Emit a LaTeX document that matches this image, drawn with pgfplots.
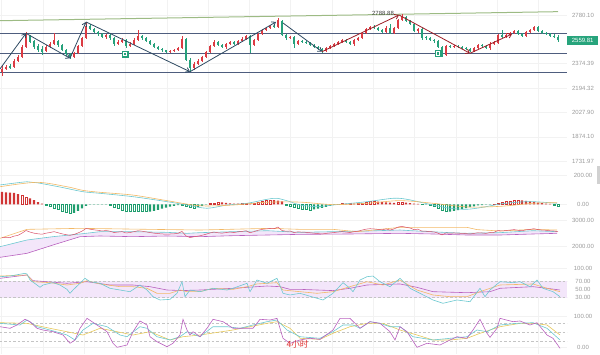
\documentclass[border=0pt]{standalone}
\usepackage{fontspec}
\setmainfont{Liberation Sans}
\newfontfamily\cjk{Noto Sans CJK SC}
\usepackage{pgfplots}
\pgfplotsset{compat=1.18}
\usepackage{pgfplotstable}
\usetikzlibrary{arrows.meta}

\definecolor{cred}{HTML}{DB3B43}
\definecolor{cgreen}{HTML}{26A17B}
\definecolor{navyc}{HTML}{2E4A62}
\definecolor{arrred}{HTML}{9B1C24}
\definecolor{hlc}{HTML}{4E5D7E}
\definecolor{trendc}{HTML}{9DBB84}
\definecolor{labc}{HTML}{9A9A9A}
\definecolor{gridc}{HTML}{F2F2F2}
\definecolor{lcyan}{HTML}{6CC8D0}
\definecolor{lorange}{HTML}{F2B866}
\definecolor{lpurple}{HTML}{B860BE}
\definecolor{lyellow}{HTML}{E6C85A}
\definecolor{pricec}{HTML}{D9506A}
\definecolor{bandc}{HTML}{F3E6FA}
\definecolor{dashc}{HTML}{C4C4C4}
\definecolor{hred}{HTML}{D03535}
\definecolor{hgreen}{HTML}{1F9E6E}
\definecolor{tagc}{HTML}{27A47C}
\definecolor{redtxt}{HTML}{E0302F}

\pgfplotstableread{
x o h l c
2 2312 2358 2283 2335
6 2335 2365 2327 2350
10 2358 2373 2335 2342
14 2350 2412 2342 2396
18 2396 2443 2388 2427
22 2427 2523 2419 2507
26 2507 2632 2499 2606
30 2598 2606 2540 2548
34 2556 2564 2491 2507
38 2515 2531 2467 2483
42 2491 2515 2443 2467
46 2475 2523 2467 2507
50 2507 2548 2499 2531
54 2531 2623 2523 2564
58 2556 2564 2507 2523
62 2523 2531 2475 2483
66 2483 2491 2435 2451
70 2451 2459 2412 2427
74 2427 2467 2419 2459
78 2459 2523 2451 2515
82 2515 2589 2507 2581
86 2581 2718 2573 2683
90 2683 2700 2649 2657
94 2657 2666 2623 2632
98 2632 2640 2598 2615
102 2615 2623 2581 2589
106 2589 2615 2573 2606
110 2606 2615 2564 2581
114 2581 2589 2515 2531
118 2531 2564 2523 2548
122 2548 2581 2540 2564
126 2564 2573 2499 2515
130 2515 2548 2507 2531
134 2531 2581 2523 2564
138 2564 2649 2556 2598
142 2598 2606 2564 2581
146 2581 2589 2548 2556
150 2556 2564 2523 2531
154 2531 2540 2499 2507
158 2507 2515 2483 2491
162 2491 2499 2467 2479
166 2479 2483 2459 2467
170 2467 2483 2459 2475
174 2475 2491 2467 2483
178 2483 2507 2475 2499
182 2499 2598 2491 2573
186 2573 2581 2396 2404
190 2404 2419 2312 2342
194 2342 2388 2327 2373
198 2373 2412 2365 2396
202 2396 2435 2388 2427
206 2427 2475 2419 2467
210 2467 2523 2459 2515
214 2515 2564 2507 2548
218 2548 2556 2515 2523
222 2523 2531 2499 2507
226 2507 2540 2491 2531
230 2531 2556 2523 2548
234 2548 2556 2523 2531
238 2531 2564 2523 2556
242 2556 2589 2548 2573
246 2573 2606 2564 2598
250 2598 2606 2459 2523
254 2523 2573 2515 2564
258 2564 2623 2556 2615
262 2615 2657 2606 2649
266 2649 2674 2640 2666
270 2666 2692 2657 2683
274 2683 2700 2666 2674
278 2674 2753 2666 2736
282 2727 2736 2598 2606
286 2606 2615 2564 2581
290 2581 2598 2573 2589
294 2589 2598 2499 2531
298 2531 2564 2523 2556
302 2556 2564 2540 2548
306 2548 2556 2531 2540
310 2540 2548 2515 2523
314 2523 2531 2499 2507
318 2507 2515 2483 2491
322 2491 2499 2459 2475
326 2475 2507 2467 2499
330 2499 2523 2491 2515
334 2515 2540 2507 2531
338 2531 2556 2523 2548
342 2548 2573 2540 2564
346 2564 2573 2540 2548
350 2548 2556 2523 2531
354 2531 2573 2515 2564
358 2564 2589 2556 2581
362 2581 2632 2573 2623
366 2623 2666 2615 2657
370 2657 2683 2649 2674
374 2674 2692 2657 2666
378 2666 2674 2640 2649
382 2649 2657 2623 2632
386 2632 2683 2623 2666
390 2666 2700 2615 2623
394 2623 2674 2615 2666
398 2666 2744 2657 2736
402 2736 2793 2727 2762
406 2762 2771 2718 2727
410 2727 2736 2692 2700
414 2700 2709 2632 2640
418 2640 2666 2623 2657
422 2657 2666 2564 2581
426 2589 2598 2564 2581
430 2581 2589 2556 2564
434 2564 2573 2540 2556
438 2556 2564 2499 2507
442 2507 2515 2427 2443
446 2443 2523 2435 2515
450 2515 2523 2499 2507
454 2507 2523 2499 2515
458 2515 2523 2499 2507
462 2507 2515 2491 2499
466 2499 2507 2483 2491
470 2491 2499 2467 2475
474 2475 2507 2467 2499
478 2499 2531 2491 2523
482 2523 2531 2507 2515
486 2515 2523 2491 2499
490 2499 2548 2483 2531
494 2531 2556 2523 2540
498 2540 2615 2531 2606
502 2606 2649 2581 2589
506 2589 2623 2581 2606
510 2606 2632 2598 2623
514 2623 2649 2615 2640
518 2640 2649 2606 2615
522 2615 2623 2589 2598
526 2598 2640 2589 2632
530 2632 2657 2623 2649
534 2649 2683 2640 2674
538 2674 2683 2632 2640
542 2640 2649 2615 2623
546 2623 2632 2606 2615
550 2615 2623 2589 2598
554 2598 2615 2581 2589
558 2589 2606 2548 2559.81
}\candles

\pgfplotstableread{
x v t
2 84 1
6 82 1
10 80 1
14 78 1
18 70 1
22 60 2
26 50 2
30 40 1
34 28 1
38 15 1
42 5 1
46 -8 4
50 -16 4
54 -25 4
58 -35 4
62 -45 4
66 -55 4
70 -61 4
74 -58 3
78 -45 3
82 -28 3
86 -10 3
90 -3 3
94 -3 3
98 -2 3
102 -3 3
106 -3 3
110 -8 4
114 -18 4
118 -28 4
122 -38 4
126 -48 4
130 -50 4
134 -48 4
138 -45 4
142 -48 4
146 -50 4
150 -50 3
154 -45 3
158 -38 3
162 -30 3
166 -22 3
170 -15 3
174 -10 3
178 -5 3
182 -8 4
186 -15 4
190 -22 4
194 -25 4
198 -20 3
202 -10 3
206 -3 3
210 5 2
214 10 2
218 15 2
222 14 1
226 10 1
230 6 1
234 4 1
238 4 1
242 5 2
246 6 2
250 4 1
254 8 2
258 14 2
262 20 2
266 26 2
270 30 2
274 28 1
278 25 1
282 20 1
286 -5 4
290 -12 4
294 -20 4
298 -26 4
302 -32 4
306 -36 4
310 -38 4
314 -35 3
318 -30 3
322 -25 3
326 -18 3
330 -10 3
334 -4 3
338 3 2
342 4 2
346 4 1
350 5 2
354 5 1
358 6 2
362 10 2
366 14 2
370 18 2
374 20 2
378 18 1
382 16 1
386 14 1
390 12 1
394 10 1
398 12 2
402 14 2
406 12 1
410 8 1
414 5 1
418 3 1
422 -3 4
426 -3 3
430 -5 4
434 -15 4
438 -25 4
442 -38 4
446 -50 4
450 -50 3
454 -45 3
458 -40 3
462 -33 3
466 -26 3
470 -20 3
474 -14 3
478 -8 3
482 -5 3
486 -3 3
490 -2 3
494 3 2
498 5 2
502 12 2
506 18 2
510 24 2
514 28 2
518 30 2
522 27 1
526 24 1
530 20 1
534 16 1
538 12 1
542 8 1
546 5 1
550 3 1
554 -5 4
558 -10 4
}\hist

\pgfplotsset{
  panel/.style={scale only axis, width=567pt, xmin=0, xmax=567, anchor=north west,
    axis line style={draw=none}, major tick length=0pt,
    xtick={1.6,42.9,84.2,125.5,166.8,208.1,249.4,290.7,332,373.3,414.6,455.9,497.2,538.5},
    xticklabels={}, xmajorgrids, ymajorgrids,
    grid style={color=gridc, line width=0.5pt},
    yticklabel pos=right,
    yticklabel style={anchor=center, xshift=16pt, font=\fontsize{6}{7}\selectfont, text=labc, inner sep=0pt},
    clip=false},
  ind/.style={line width=0.6pt},
  candle/.style={draw=none, mark=none, error bars/.cd, y dir=plus, y explicit, error mark=none},
}

\begin{document}
\begin{tikzpicture}
\useasboundingbox (0pt,0pt) rectangle (600pt,-354pt);

% ---------- main price panel ----------
\begin{axis}[panel, at={(0pt,0pt)}, height=170pt, ymode=log, ymin=1683.8, ymax=2918.4,
  ytick={1731.97,1874.10,2027.90,2194.32,2374.39,2780.10},
  yticklabels={1731.97,1874.10,2027.90,2194.32,2374.39,2780.10}]
\addplot[hlc, line width=0.8pt] coordinates {(0,2620) (567,2620)};
\addplot[hlc, line width=0.8pt] coordinates {(0,2456) (567,2456)};
\addplot[hlc, line width=0.8pt] coordinates {(0,2306) (567,2306)};
\addplot[trendc, line width=1pt] coordinates {(0,2729) (558,2810)};
% wicks
\addplot[candle, error bar style={draw=cred, line width=0.7pt}]
  table[x=x, y=l, y error expr=\thisrow{h}-\thisrow{l},
  restrict expr to domain={\thisrow{c}-\thisrow{o}}{0:100000}] {\candles};
\addplot[candle, error bar style={draw=cgreen, line width=0.7pt}]
  table[x=x, y=l, y error expr=\thisrow{h}-\thisrow{l},
  restrict expr to domain={\thisrow{c}-\thisrow{o}}{-100000:-0.0001}] {\candles};
% bodies
\addplot[candle, error bar style={draw=cred, line width=2.6pt}]
  table[x=x, y=o, y error expr=\thisrow{c}-\thisrow{o},
  restrict expr to domain={\thisrow{c}-\thisrow{o}}{0:100000}] {\candles};
\addplot[candle, error bar style={draw=cgreen, line width=2.6pt}]
  table[x=x, y=c, y error expr=\thisrow{o}-\thisrow{c},
  restrict expr to domain={\thisrow{c}-\thisrow{o}}{-100000:-0.0001}] {\candles};
% arrows
\addplot[navyc, line width=0.8pt, -{Straight Barb[length=3.5pt,width=5pt]}] coordinates {(0,2335) (26,2620)};
\addplot[navyc, line width=0.8pt, -{Straight Barb[length=3.5pt,width=5pt]}] coordinates {(26,2620) (70,2417)};
\addplot[navyc, line width=0.8pt, -{Straight Barb[length=3.5pt,width=5pt]}] coordinates {(70,2417) (86,2718)};
\addplot[navyc, line width=0.8pt, -{Straight Barb[length=3.5pt,width=5pt]}] coordinates {(86,2718) (190,2314)};
\addplot[navyc, line width=0.8pt, -{Straight Barb[length=3.5pt,width=5pt]}] coordinates {(190,2314) (276,2718)};
\addplot[navyc, line width=0.8pt, -{Straight Barb[length=3.5pt,width=5pt]}] coordinates {(283,2709) (322,2469)};
\addplot[arrred, line width=0.8pt, -{Straight Barb[length=3.5pt,width=5pt]}] coordinates {(322,2469) (399,2780)};
\addplot[arrred, line width=0.8pt, -{Straight Barb[length=3.5pt,width=5pt]}] coordinates {(399,2780) (470,2456)};
\addplot[arrred, line width=0.8pt, -{Straight Barb[length=3.5pt,width=5pt]}] coordinates {(470,2456) (512,2614)};
% signal markers
\addplot[only marks, mark=square*, mark size=3pt, color=cgreen] coordinates {(125,2451) (438,2456)};
\addplot[only marks, mark=square, mark size=1.7pt, color=white, line width=0.6pt] coordinates {(125,2451) (438,2456)};
\node[font=\fontsize{6}{7}\selectfont, text=black!75] at (axis cs:383,2796) {2788.88};
\node[fill=tagc, text=white, font=\fontsize{6}{7}\selectfont, inner sep=0pt,
  minimum width=31pt, minimum height=8.5pt, anchor=west] at (axis cs:567,2559.81) {2559.81};
\end{axis}

% ---------- MACD ----------
\begin{axis}[panel, at={(0pt,-170pt)}, height=44pt, ymin=-66.2, ymax=234.1,
  ytick={0,200}, yticklabels={0.00,200.00}]
\addplot[ybar, bar width=2.4pt, bar shift=0pt, draw=none, fill=hred]
  table[x=x, y=v, restrict expr to domain={\thisrow{t}}{0.5:1.5}] {\hist};
\addplot[ybar, bar width=2pt, bar shift=0pt, draw=hred, fill=white, line width=0.5pt]
  table[x=x, y=v, restrict expr to domain={\thisrow{t}}{1.5:2.5}] {\hist};
\addplot[ybar, bar width=2.4pt, bar shift=0pt, draw=none, fill=hgreen]
  table[x=x, y=v, restrict expr to domain={\thisrow{t}}{2.5:3.5}] {\hist};
\addplot[ybar, bar width=2pt, bar shift=0pt, draw=hgreen, fill=white, line width=0.5pt]
  table[x=x, y=v, restrict expr to domain={\thisrow{t}}{3.5:4.5}] {\hist};
\addplot[ind, lcyan, smooth] coordinates {(0,132) (27,154) (37,147) (60,118) (83,86) (100,75) (133,52) (167,18) (187,-5) (207,-27) (227,-5) (247,7) (267,34) (277,41) (290,18) (300,-5) (317,-16) (333,-5) (367,18) (393,41) (407,34) (433,-5) (450,-27) (467,-34) (483,-20) (500,2) (517,14) (533,18) (557,7)};
\addplot[ind, lorange, smooth] coordinates {(0,120) (37,150) (67,120) (83,95) (100,82) (133,63) (167,25) (200,-10) (233,-5) (267,14) (300,15) (333,-2) (367,7) (400,25) (433,7) (467,-18) (500,-14) (533,7) (557,11)};
\end{axis}

% ---------- BOLL ----------
\begin{axis}[panel, at={(0pt,-214pt)}, height=48pt, ymin=1427, ymax=3224.7,
  ytick={2000,3000}, yticklabels={2000.00,3000.00}]
\addplot[draw=none, fill=bandc] coordinates {(0,2001) (27,2251) (53,2376) (80,2476) (100,2563) (133,2563) (167,2538) (187,2501) (200,2526) (233,2563) (267,2600) (300,2538) (333,2563) (367,2588) (400,2625) (417,2588) (450,2526) (467,2501) (500,2526) (533,2600) (557,2563)
 (557,2501) (533,2476) (500,2438) (467,2438) (433,2476) (400,2501) (350,2476) (300,2463) (267,2438) (233,2413) (200,2376) (167,2401) (133,2376) (100,2401) (80,2376) (53,2064) (27,1752) (0,1602)} -- cycle;
\addplot[ind, lcyan] coordinates {(0,2001) (27,2251) (53,2376) (80,2476) (100,2563) (133,2563) (167,2538) (187,2501) (200,2526) (233,2563) (267,2600) (300,2538) (333,2563) (367,2588) (400,2625) (417,2588) (450,2526) (467,2501) (500,2526) (533,2600) (557,2563)};
\addplot[ind, lpurple] coordinates {(0,1602) (27,1752) (53,2064) (80,2376) (100,2401) (133,2376) (167,2401) (200,2376) (233,2413) (267,2438) (300,2463) (350,2476) (400,2501) (433,2476) (467,2438) (500,2438) (533,2476) (557,2501)};
\addplot[ind, lorange] coordinates {(0,2313) (27,2650) (80,2688) (150,2650) (200,2625) (270,2688) (300,2650) (333,2650) (357,2563) (367,2600) (400,2725) (467,2725) (477,2640) (500,2588) (533,2650) (557,2625)};
\addplot[line width=0.5pt, pricec] table[x=x, y=c] {\candles};
\end{axis}

% ---------- RSI ----------
\begin{axis}[panel, at={(0pt,-262pt)}, height=49pt, ymin=-1.9, ymax=115.5,
  ytick={30,50,70,100}, yticklabels={30.00,50.00,70.00,100.00}]
\addplot[draw=none, fill=bandc] coordinates {(0,30) (567,30) (567,70) (0,70)} -- cycle;
\addplot[dashc, line width=0.5pt, dash pattern=on 2.5pt off 2pt] coordinates {(0,70) (567,70)};
\addplot[dashc, line width=0.5pt, dash pattern=on 2.5pt off 2pt] coordinates {(0,30) (567,30)};
\addplot[ind, lpurple] coordinates {(0,76.4) (27,84.4) (33,70.8) (67,64.5) (87,68.3) (110,60.4) (133,60.4) (150,56.4) (167,48.4) (183,47) (200,48.4) (233,52.5) (267,58) (280,56.4) (290,50) (300,50) (333,47) (350,52.5) (367,60.4) (400,62.9) (417,54.8) (433,44.4) (467,42) (490,44.4) (500,52.5) (533,56.4) (547,52.5) (560,48.4)};
\addplot[ind, lorange] coordinates {(0,81.9) (27,84.4) (33,68.3) (50,66) (67,60.4) (80,64.5) (87,70.8) (100,62.9) (120,56.4) (133,56.4) (147,52.5) (157,40.5) (170,40.5) (180,48.4) (187,44.4) (200,44.4) (213,52.5) (233,50) (247,56.4) (257,62.9) (277,66) (283,48.4) (300,44.4) (317,40.5) (333,44.4) (350,56.4) (367,68.3) (383,60.4) (400,72.4) (417,48.4) (433,36.5) (450,32.4) (467,32.4) (480,44.4) (500,60.4) (533,62.9) (547,52.5) (560,44.4)};
\addplot[ind, lcyan] coordinates {(0,80.3) (10,81.9) (25,88.4) (27,86.8) (30,72.4) (37,60.4) (40,55) (43,60.4) (50,64.5) (53,66) (60,60.4) (67,50) (70,40.5) (73,48.4) (80,64.5) (85,76.4) (90,68.3) (100,64.5) (110,52.5) (120,48.4) (130,44.4) (140,60.4) (147,48.4) (153,32.4) (160,24.5) (170,26) (177,40.5) (182,68.3) (185,32.4) (190,48.4) (200,44.4) (213,52.5) (227,48.4) (233,52.5) (247,64.5) (250,44.4) (257,72.4) (267,64.5) (277,76.4) (283,40.5) (290,36.5) (300,40.5) (317,28.6) (323,24.5) (333,40.5) (343,66) (350,52.5) (353,44.4) (360,72.4) (367,80.3) (373,81.9) (380,68.3) (390,56.4) (400,76.4) (410,52.5) (420,40.5) (433,24.5) (443,16.6) (457,24.5) (470,20.4) (480,52.5) (485,32.4) (490,48.4) (500,68.3) (513,66) (520,68.3) (530,56.4) (537,72.4) (543,52.5) (553,44.4) (560,32.4)};
\end{axis}

% ---------- KDJ ----------
\begin{axis}[panel, at={(0pt,-311pt)}, height=43pt, ymin=-21.9, ymax=118.6,
  ytick={0,100}, yticklabels={0.00,100.00}]
\addplot[dashc, line width=0.5pt, dash pattern=on 2.5pt off 2pt] coordinates {(0,80) (567,80)};
\addplot[dashc, line width=0.5pt, dash pattern=on 2.5pt off 2pt] coordinates {(0,50) (567,50)};
\addplot[dashc, line width=0.5pt, dash pattern=on 2.5pt off 2pt] coordinates {(0,20) (567,20)};
\addplot[ind, lyellow] coordinates {(0,80.4) (27,78.3) (50,62.1) (83,40.2) (100,62.1) (117,51) (133,40.2) (150,51) (170,23.9) (183,34.6) (200,40.2) (233,56.5) (267,78.3) (277,83.7) (290,62.1) (300,29.4) (320,26) (333,45.8) (350,67.3) (367,78.3) (383,78.3) (400,56.5) (417,40.2) (433,23.9) (450,23.9) (467,29.4) (480,45.8) (500,67.3) (520,78.3) (533,78.3) (547,72.9) (560,40.2)};
\addplot[ind, lcyan] coordinates {(0,78.3) (20,72.9) (27,89.2) (37,67.3) (50,56.5) (67,40.2) (75,23.9) (83,56.5) (93,78.3) (107,67.3) (120,40.2) (127,34.6) (140,67.3) (147,62.1) (157,34.6) (170,23.9) (180,34.6) (187,51) (200,34.6) (213,67.3) (227,67.3) (240,62.1) (253,72.9) (267,83.7) (277,89.2) (287,56.5) (300,34.6) (320,29.4) (333,51) (343,72.9) (353,72.9) (360,62.1) (370,83.7) (380,78.3) (390,67.3) (400,67.3) (413,34.6) (433,23.9) (450,29.4) (467,34.6) (477,56.5) (487,51) (500,72.9) (517,78.3) (533,80.4) (547,62.1) (560,23.9)};
\addplot[ind, lpurple] coordinates {(0,67.3) (10,62.1) (17,72.9) (25,91.5) (30,83.7) (37,62.1) (43,56.5) (53,51) (63,40.2) (70,13.1) (75,23.9) (80,62.1) (87,94.6) (97,72.9) (107,51) (113,13.1) (117,0) (127,7.5) (133,51) (140,86) (147,72.9) (150,34.6) (157,18.3) (167,2) (173,13.1) (180,40.2) (183,91.5) (187,56.5) (190,40.2) (193,51) (200,34.6) (207,62.1) (213,91.5) (223,83.7) (233,62.1) (243,62.1) (253,62.1) (260,91.5) (270,89.2) (277,94.6) (283,29.4) (290,13) (300,24) (310,29.4) (320,26) (333,56.5) (340,94.6) (350,94.6) (360,62.1) (370,83.7) (380,78.3) (390,51) (395,23.9) (400,67.3) (407,51) (417,0) (427,13.1) (440,7.5) (450,23.9) (457,34.6) (467,29.4) (473,56.5) (480,91.5) (487,45.8) (490,32.5) (497,62.1) (500,94.6) (513,83.7) (520,86) (530,72.9) (537,80.4) (547,40.2) (553,29.4) (560,-3.2)};
\node[text=redtxt, font=\cjk\fontsize{8.5}{9}\selectfont] at (axis cs:297.5,11) {4小时};
\end{axis}

\fill[black!18] (597pt,-166pt) rectangle (600pt,-184pt);
\end{tikzpicture}
\end{document}
